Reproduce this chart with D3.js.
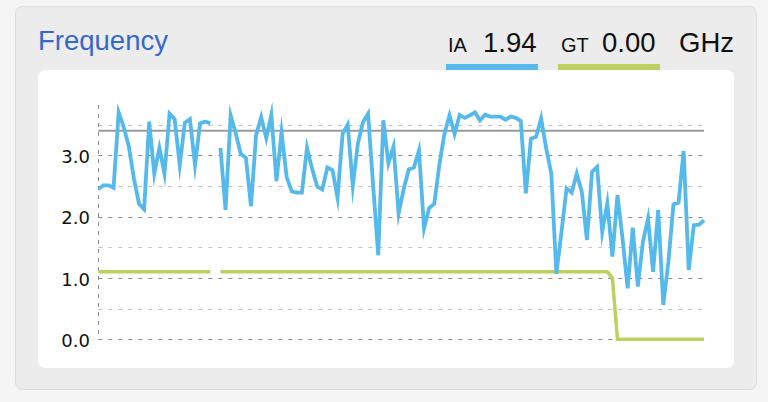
<!DOCTYPE html>
<html>
<head>
<meta charset="utf-8">
<script src="https://cdn.jsdelivr.net/npm/d3@7"></script>
<style>
  html, body { margin: 0; padding: 0; background: #f5f5f5; }
  svg { display: block; }
</style>
</head>
<body>
<svg id="chart" width="768" height="402"></svg>
<script>
// ---- data ----
const title = "Frequency";
const unitLabel = "GHz";
const seriesNames = ["IA", "GT"];
const currentValues = [1.94, 0.00];
const iaValues = [
  2.45, 2.51, 2.51, 2.47, 3.70, 3.46, 3.14, 2.62, 2.21, 2.12,
  3.55, 2.70, 3.12, 2.70, 3.68, 3.59, 2.84, 3.53, 3.59, 2.84,
  3.52, 3.55, 3.52, null, 3.12, 2.11, 3.65, 3.36, 3.02, 2.96,
  2.17, 3.33, 3.62, 3.28, 3.66, 2.58, 3.37, 2.65, 2.41, 2.39,
  2.39, 3.12, 2.78, 2.49, 2.44, 2.80, 2.76, 2.31, 3.35, 3.50,
  2.50, 3.19, 3.54, 3.68, 2.50, 1.37, 3.57, 2.87, 3.14, 2.05,
  2.45, 2.77, 2.80, 3.08, 1.81, 2.14, 2.21, 2.84, 3.35, 3.65,
  3.35, 3.66, 3.61, 3.65, 3.70, 3.57, 3.66, 3.63, 3.63, 3.63,
  3.58, 3.63, 3.61, 3.56, 2.38, 3.27, 3.30, 3.60, 3.11, 2.70,
  1.07, 1.75, 2.46, 2.39, 2.70, 2.40, 1.62, 2.73, 2.81, 1.75,
  2.22, 1.35, 2.35, 1.64, 0.83, 1.82, 0.86, 1.59, 1.97, 1.10,
  2.11, 0.56, 1.26, 2.20, 2.23, 3.07, 1.13, 1.86, 1.87, 1.94
];
const gtValues = [
  1.1, 1.1, 1.1, 1.1, 1.1, 1.1, 1.1, 1.1, 1.1, 1.1,
  1.1, 1.1, 1.1, 1.1, 1.1, 1.1, 1.1, 1.1, 1.1, 1.1,
  1.1, 1.1, 1.1, null, 1.1, 1.1, 1.1, 1.1, 1.1, 1.1,
  1.1, 1.1, 1.1, 1.1, 1.1, 1.1, 1.1, 1.1, 1.1, 1.1,
  1.1, 1.1, 1.1, 1.1, 1.1, 1.1, 1.1, 1.1, 1.1, 1.1,
  1.1, 1.1, 1.1, 1.1, 1.1, 1.1, 1.1, 1.1, 1.1, 1.1,
  1.1, 1.1, 1.1, 1.1, 1.1, 1.1, 1.1, 1.1, 1.1, 1.1,
  1.1, 1.1, 1.1, 1.1, 1.1, 1.1, 1.1, 1.1, 1.1, 1.1,
  1.1, 1.1, 1.1, 1.1, 1.1, 1.1, 1.1, 1.1, 1.1, 1.1,
  1.1, 1.1, 1.1, 1.1, 1.1, 1.1, 1.1, 1.1, 1.1, 1.1,
  1.1, 1.0, 0.0, 0.0, 0.0, 0.0, 0.0, 0.0, 0.0, 0.0,
  0.0, 0.0, 0.0, 0.0, 0.0, 0.0, 0.0, 0.0, 0.0, 0.0
];
const referenceValue = 3.4;
const yTickLabels = [0, 1, 2, 3];
const yGridValues = [0, 0.5, 1, 1.5, 2, 2.5, 3, 3.5];
const yMax = 3.82;

// ---- styles ----
const blue = "#55B9EC";
const green = "#BCD062";

const svg = d3.select("#chart");

// card
svg.append("rect").attr("x", 15.5).attr("y", 6.5).attr("width", 741).attr("height", 383)
  .attr("rx", 7).attr("fill", "#ececec").attr("stroke", "#dddddd");
// inner white panel
svg.append("rect").attr("x", 38).attr("y", 70).attr("width", 696).attr("height", 298)
  .attr("rx", 7).attr("fill", "#ffffff");

// header
svg.append("text").attr("x", 38).attr("y", 50).text(title)
  .attr("font-family", "Liberation Sans, Arial, sans-serif").attr("font-size", 27.5)
  .attr("fill", "#3768C8");

const headFont = "Liberation Sans, Arial, sans-serif";
const legendItems = [
  { name: seriesNames[0], value: currentValues[0], color: blue, nameX: 448, valX: 483, barX: 446, barW: 92 },
  { name: seriesNames[1], value: currentValues[1], color: green, nameX: 561, valX: 602, barX: 558, barW: 102 }
];
legendItems.forEach(it => {
  svg.append("text").attr("x", it.nameX).attr("y", 51.5).text(it.name)
    .attr("font-family", headFont).attr("font-size", 20).attr("fill", "#111");
  svg.append("text").attr("x", it.valX).attr("y", 51.5).text(d3.format(".2f")(it.value))
    .attr("font-family", headFont).attr("font-size", 27.5).attr("fill", "#111");
  svg.append("rect").attr("x", it.barX).attr("y", 64).attr("width", it.barW).attr("height", 6)
    .attr("fill", it.color);
});
svg.append("text").attr("x", 679).attr("y", 51.5).text(unitLabel)
  .attr("font-family", headFont).attr("font-size", 27.5).attr("fill", "#111");

// scales
const x = d3.scaleLinear().domain([0, iaValues.length - 1]).range([98.3, 704]);
const y = d3.scaleLinear().domain([0, yMax]).range([339.3, 105]);

// grid
const grid = svg.append("g");
grid.selectAll("line").data(yGridValues).enter().append("line")
  .attr("x1", x(0)).attr("x2", x(iaValues.length - 1))
  .attr("y1", d => Math.round(y(d)) + 0.5).attr("y2", d => Math.round(y(d)) + 0.5)
  .attr("stroke", d => (d % 1 === 0 ? "#8a8a8a" : "#c4c4c4"))
  .attr("stroke-width", 1)
  .attr("stroke-dasharray", "4,6");

// vertical axis (dashed)
svg.append("line").attr("x1", 98.5).attr("x2", 98.5).attr("y1", y(yMax)).attr("y2", y(0))
  .attr("stroke", "#8a8a8a").attr("stroke-dasharray", "4,5");

// y labels via axis
const yAxis = d3.axisLeft(y).tickValues(yTickLabels).tickFormat(d3.format(".1f")).tickSize(0).tickPadding(0);
const ag = svg.append("g").attr("transform", "translate(90,0)").call(yAxis);
ag.select(".domain").remove();
ag.selectAll("text").attr("font-family", "DejaVu Sans, sans-serif").attr("font-size", 18)
  .attr("fill", "#111").attr("dy", "0.4em");

// reference line
svg.append("line").attr("x1", x(0)).attr("x2", x(iaValues.length - 1))
  .attr("y1", y(referenceValue)).attr("y2", y(referenceValue))
  .attr("stroke", "#9a9a9a").attr("stroke-width", 2);

const line = d3.line().defined(d => d != null).x((d, i) => x(i)).y(d => y(d));

svg.append("path").datum(gtValues).attr("d", line)
  .attr("fill", "none").attr("stroke", green).attr("stroke-width", 3.5);
svg.append("path").datum(iaValues).attr("d", line)
  .attr("fill", "none").attr("stroke", blue).attr("stroke-width", 3.8)
  .attr("stroke-linejoin", "miter").attr("stroke-miterlimit", 10);
</script>
</body>
</html>
